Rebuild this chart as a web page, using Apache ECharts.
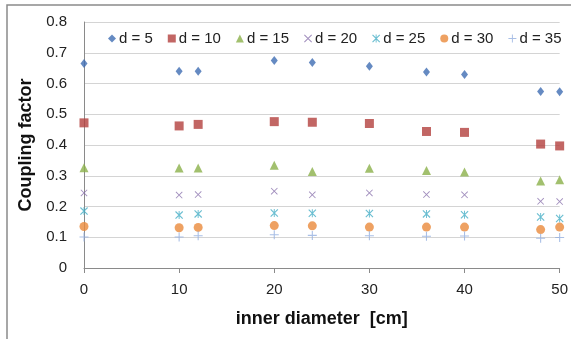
<!DOCTYPE html>
<html>
<head>
<meta charset="utf-8">
<style>
  html, body { margin: 0; padding: 0; background: #fff; }
  #chart { width: 571px; height: 339px; }
</style>
<script src="https://cdn.jsdelivr.net/npm/echarts@6/dist/echarts.min.js"></script>
</head>
<body>
<div id="chart"></div>
<script>
// inner diameter [cm]
const diameters = [0, 10, 12, 20, 24, 30, 36, 40, 48, 50];

const d5 = [0.665, 0.640, 0.640, 0.675, 0.668, 0.656, 0.637, 0.629, 0.574, 0.573];
const d10 = [0.472, 0.462, 0.467, 0.476, 0.474, 0.470, 0.444, 0.441, 0.403, 0.397];
const d15 = [0.326, 0.325, 0.325, 0.334, 0.314, 0.324, 0.317, 0.312, 0.283, 0.287];
const d20 = [0.244, 0.237, 0.239, 0.250, 0.238, 0.244, 0.239, 0.238, 0.217, 0.216];
const d25 = [0.185, 0.172, 0.176, 0.179, 0.178, 0.177, 0.176, 0.173, 0.166, 0.161];
const d30 = [0.135, 0.131, 0.132, 0.138, 0.137, 0.133, 0.133, 0.133, 0.125, 0.133];
const d35 = [0.101, 0.101, 0.105, 0.108, 0.106, 0.105, 0.103, 0.104, 0.097, 0.099];

const names = ["d = 5", "d = 10", "d = 15", "d = 20", "d = 25", "d = 30", "d = 35"];

const plusPath = "path://M4.4,0L5.6,0L5.6,4.4L10,4.4L10,5.6L5.6,5.6L5.6,10L4.4,10L4.4,5.6L0,5.6L0,4.4L4.4,4.4Z";
const crossPath = "path://M0,0.9L0.9,0L10,9.1L9.1,10Z M9.1,0L10,0.9L0.9,10L0,9.1Z";
const starPath = "path://M0,1L1,0L10,9L9,10Z M9,0L10,1L1,10L0,9Z M4.4,0L5.6,0L5.6,10L4.4,10Z";

const FONT = "Liberation Sans";

const myChart = echarts.init(document.getElementById("chart"));

const pts = (vals) => vals.map((v, i) => [diameters[i], v]);

const makeSeries = (name, vals, color, symbol, size) => ({
  name,
  type: "scatter",
  data: pts(vals),
  symbol,
  symbolSize: size,
  itemStyle: { color },
});

myChart.setOption({
  animation: false,
  textStyle: { fontFamily: FONT },
  graphic: [
    {
      type: "rect",
      shape: { x: 7, y: 5, width: 580, height: 360 },
      style: { fill: "none", stroke: "#8a8a8a", lineWidth: 1.5 },
    },
  ],
  grid: { left: 84, right: 11, top: 22, bottom: 71, containLabel: false },
  legend: {
    top: 26,
    left: 103,
    width: 600,
    itemGap: 15,
    itemWidth: 8,
    itemHeight: 8,
    textStyle: { fontSize: 15, color: "#222", fontFamily: FONT, padding: [0, 0, 0, -2] },
    data: names,
  },
  xAxis: {
    type: "value",
    min: 0,
    max: 50,
    interval: 10,
    name: "inner diameter  [cm]",
    nameLocation: "middle",
    nameGap: 42,
    nameTextStyle: { fontSize: 18, fontWeight: "bold", color: "#111", fontFamily: FONT },
    axisLine: { show: true, lineStyle: { color: "#8a8a8a", width: 1 } },
    axisTick: { show: true, length: 5, lineStyle: { color: "#8a8a8a" } },
    axisLabel: { fontSize: 15, color: "#222", margin: 14 },
    splitLine: { show: false },
  },
  yAxis: {
    type: "value",
    min: 0,
    max: 0.8,
    interval: 0.1,
    name: "Coupling factor",
    nameLocation: "middle",
    nameGap: 47,
    nameTextStyle: { fontSize: 18, fontWeight: "bold", color: "#111", fontFamily: FONT },
    axisLine: { show: true, lineStyle: { color: "#8a8a8a", width: 1 } },
    axisTick: { show: false },
    axisLabel: { fontSize: 15, color: "#222", margin: 17 },
    splitLine: { show: true, lineStyle: { color: "#d4d4d4", width: 1 } },
  },
  series: [
    makeSeries(names[0], d5, "#3f6db3", "diamond", [7, 9]),
    makeSeries(names[1], d10, "#b3403d", "rect", 9),
    makeSeries(names[2], d15, "#8bb04a", "triangle", 9),
    makeSeries(names[3], d20, "#8a72ac", crossPath, 7),
    makeSeries(names[4], d25, "#45aec6", starPath, 8),
    makeSeries(names[5], d30, "#ea8a3b", "circle", 9),
    makeSeries(names[6], d35, "#94afe0", plusPath, 9),
  ],
});
</script>
</body>
</html>
